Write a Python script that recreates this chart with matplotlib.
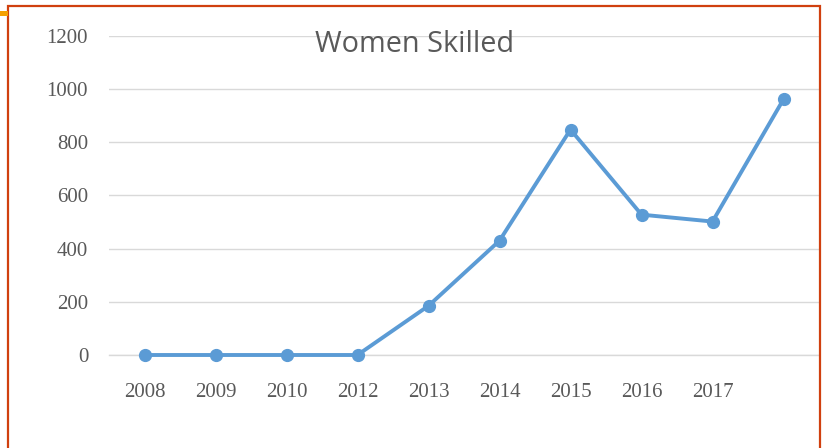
import numpy as np
import matplotlib.pyplot as plt
from matplotlib.patches import Rectangle

# data
years = ["2008", "2009", "2010", "2012", "2013", "2014", "2015", "2016", "2017", ""]
women_skilled = [0, 0, 0, 0, 185, 430, 848, 528, 502, 962]
y_ticks = [0, 200, 400, 600, 800, 1000, 1200]

W, H = 822, 448
fig = plt.figure(figsize=(W / 100, H / 100), dpi=100)

# plot area in pixels: x 109..819, y 36..355
ax = fig.add_axes([109 / W, (H - 355) / H, 710 / W, 319 / H])
x = np.arange(len(years))
ax.plot(x, women_skilled, color="#5B9BD5", lw=2.8, marker="o", ms=8.5,
        solid_capstyle="round", clip_on=False, zorder=3)
# zero line sits on the axes edge, draw it unclipped
ax.axhline(0, color="#d9d9d9", lw=1, clip_on=False, zorder=1)

ax.set_xlim(-0.5, len(years) - 0.5)
ax.set_ylim(0, 1200)
ax.set_yticks(y_ticks)
ax.set_xticks(x)
ax.set_xticklabels(years)
ax.grid(axis="y", color="#d9d9d9", lw=1)
ax.set_axisbelow(True)
for s in ax.spines.values():
    s.set_visible(False)
ax.tick_params(length=0, labelcolor="#595959", labelsize=15)
ax.tick_params(axis="y", pad=15)
ax.tick_params(axis="x", pad=20)
for lab in ax.get_xticklabels() + ax.get_yticklabels():
    lab.set_fontfamily("Liberation Serif")

fig.text(415 / W, (H - 45) / H, "Women Skilled", ha="center", va="center",
         fontsize=20.8, color="#595959", family="Open Sans")

# red frame and the small orange mark at top left
fig.patches.append(Rectangle((8 / W, -0.05), 812 / W, 1.05 - 6 / H, transform=fig.transFigure,
                             fill=False, edgecolor="#d0400f", lw=1.6))
fig.patches.append(Rectangle((0, (H - 16) / H), 8 / W, 5 / H, transform=fig.transFigure,
                             color="#f5a000", lw=0))

fig.savefig("out.png", dpi=100)
